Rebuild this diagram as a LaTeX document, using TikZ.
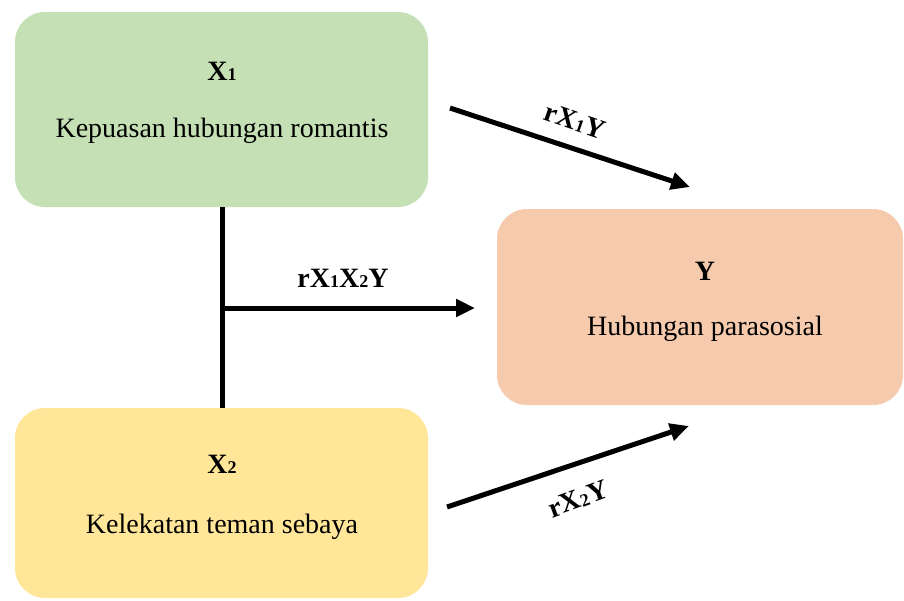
\documentclass[tikz,border=0pt]{standalone}
\usepackage{fontspec}
\setmainfont{Liberation Serif}
\usetikzlibrary{arrows.meta}
\definecolor{boxgreen}{HTML}{C5E0B4}
\definecolor{boxpeach}{HTML}{F6CAAC}
\definecolor{boxyellow}{HTML}{FFE699}
\newcommand{\lowdig}[1]{{\fontsize{18}{18}\selectfont #1}}
\tikzset{
  varbox/.style={rounded corners=30pt, inner sep=0pt},
  head/.style={font=\fontsize{28}{28}\selectfont\bfseries, anchor=base, inner sep=0pt},
  body/.style={font=\fontsize{28}{28}\selectfont, anchor=base, inner sep=0pt},
  coef/.style={font=\fontsize{28}{28}\selectfont\bfseries, inner sep=0pt},
  link/.style={line width=5pt, -{Triangle[length=19pt,width=17pt]}},
  plain/.style={line width=5pt}
}
\begin{document}
\begin{tikzpicture}[x=1pt,y=-1pt]
\useasboundingbox (0,0) rectangle (904,600);
\fill[white] (0,0) rectangle (904,600);
% boxes
\node[varbox, fill=boxgreen, minimum width=413pt, minimum height=195pt] (x1) at (221.5,109.5) {};
\node[varbox, fill=boxpeach, minimum width=406pt, minimum height=196pt] (y) at (700,307) {};
\node[varbox, fill=boxyellow, minimum width=413pt, minimum height=190pt] (x2) at (221.5,503) {};
% texts
\node[head] (x1h) at (222,80) {X\lowdig{1}};
\node[body] (x1b) at (222,137) {Kepuasan hubungan romantis};
\node[head] (yh) at (705,280) {Y};
\node[body] (yb) at (705,335) {Hubungan parasosial};
\node[head] (x2h) at (222,473) {X\lowdig{2}};
\node[body] (x2b) at (222,533) {Kelekatan teman sebaya};
% connectors
\coordinate (top) at (222,207);
\coordinate (bot) at (222,408);
\coordinate (mid) at (222,308);
\coordinate (midend) at (475,308);
\draw[plain] (top) -- (bot);
\draw[link] (mid) -- (midend);
\node[coef, anchor=base] (c12) at (343,287) {rX\lowdig{1}X\lowdig{2}Y};
\coordinate (a1s) at (450,108);
\coordinate (a1e) at (690,187);
\draw[link] (a1s) -- (a1e);
\node[coef, rotate=-19] (c1) at (575,121) {rX\lowdig{1}Y};
\coordinate (a2s) at (447,507);
\coordinate (a2e) at (689,426);
\draw[link] (a2s) -- (a2e);
\node[coef, rotate=20] (c2) at (578,499) {rX\lowdig{2}Y};
\end{tikzpicture}
\end{document}
